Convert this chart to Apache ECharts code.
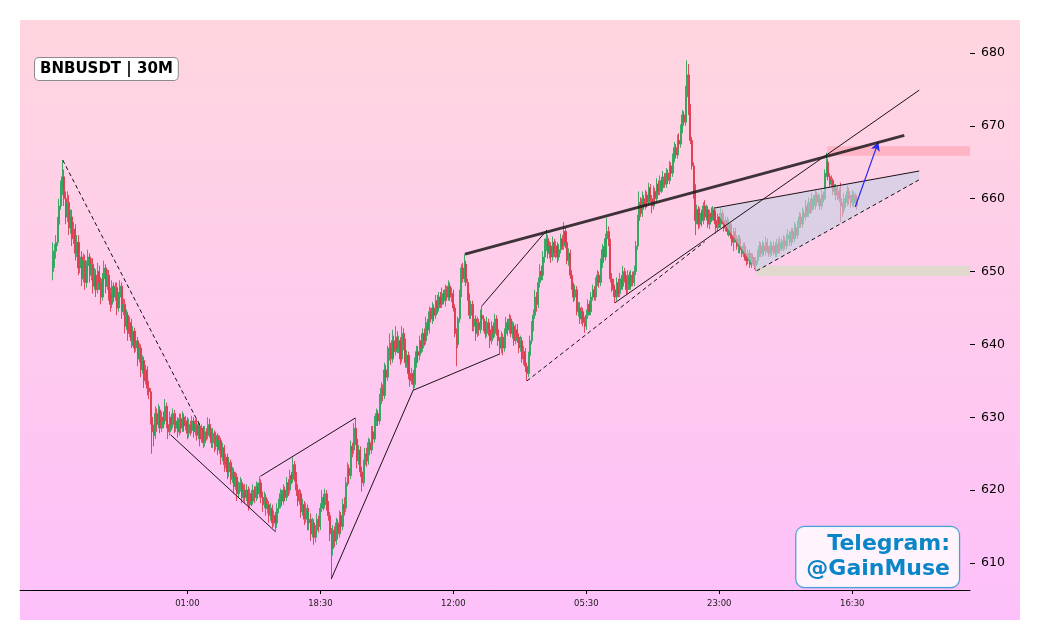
<!DOCTYPE html>
<html><head><meta charset="utf-8">
<script src="https://cdn.jsdelivr.net/npm/echarts@6/dist/echarts.min.js"></script>
<style>html,body{margin:0;padding:0;background:#fff}#c{width:1039px;height:640px}</style>
</head><body><div id="c"></div>
<script>
// ---------- DATA (30-minute candles, index 0 = first candle) ----------
const firstOpen = 650.0;
const closes = [
651.5,652.8,654.0,656.5,659.0,661.5,663.0,660.0,657.5,659.5,
656.0,657.5,654.5,655.8,652.5,654.0,650.5,652.0,649.0,651.5,
648.5,650.8,652.0,649.5,651.0,648.0,649.5,647.5,650.0,648.5,
646.5,649.0,650.5,648.0,649.5,647.0,645.5,648.0,646.5,647.8,
645.0,646.5,648.0,644.5,645.5,642.5,644.0,641.5,643.0,640.5,
641.8,639.5,640.5,638.0,639.5,636.5,637.8,635.0,636.5,634.0,
633.5,630.0,628.0,627.5,630.5,629.0,631.0,628.5,630.0,629.5,
631.5,629.0,628.0,630.0,629.0,630.5,628.5,629.5,628.0,629.8,
628.5,630.0,628.8,629.5,627.8,629.0,628.2,629.5,628.0,629.0,
627.5,628.8,627.0,628.5,626.5,628.0,627.5,629.0,628.0,626.5,
627.8,626.0,627.5,625.5,626.8,624.5,625.8,623.5,624.5,622.5,
623.8,621.5,622.5,620.5,621.8,619.5,620.5,621.0,619.0,620.0,
619.0,620.0,618.0,619.5,618.5,620.0,619.0,620.5,619.5,621.0,
619.0,618.0,619.0,617.5,618.0,616.5,617.5,615.5,616.5,615.5,
617.5,618.0,619.5,618.5,620.0,619.0,621.0,620.0,622.0,621.5,
623.5,622.0,620.0,618.5,619.5,617.0,618.0,616.0,617.5,615.5,
616.0,614.0,615.5,613.5,614.5,616.0,615.0,617.5,619.0,618.0,
619.5,618.0,616.5,614.0,612.0,614.5,613.0,615.5,614.0,616.5,
615.0,618.0,617.5,621.0,623.0,622.0,626.0,625.5,628.5,627.0,
624.0,625.5,622.5,621.0,623.5,625.0,624.0,626.5,625.5,628.0,
627.0,629.5,630.5,629.5,632.5,634.0,633.0,636.5,635.5,638.5,
639.5,638.0,640.5,639.0,641.0,639.5,640.5,638.0,641.5,640.0,
637.5,638.5,636.0,635.0,636.0,634.5,637.5,639.0,638.5,640.5,
639.5,641.5,640.5,643.0,642.0,644.5,643.5,645.0,644.0,646.0,
645.0,646.5,645.5,647.0,646.0,647.5,646.5,648.0,646.5,647.0,
645.0,641.5,640.0,643.5,647.0,650.5,649.0,651.0,648.5,646.5,
644.0,645.5,642.5,643.5,641.5,643.0,642.0,644.0,643.5,642.5,
641.5,643.0,642.0,640.5,642.5,641.5,643.5,642.0,640.5,639.5,
641.0,639.5,641.5,643.0,642.0,643.5,641.5,642.5,640.5,642.0,
641.0,639.5,640.5,638.0,639.0,637.0,636.0,638.5,640.5,642.5,
644.0,646.5,645.5,648.5,650.0,649.5,652.0,653.5,654.5,652.5,
653.5,652.0,654.0,652.5,653.5,652.0,653.0,654.5,653.5,655.5,
654.0,651.5,652.5,649.5,648.0,646.5,647.5,644.5,645.0,643.5,
644.5,643.0,642.5,644.0,645.5,644.5,646.5,647.5,646.5,648.5,
649.5,648.5,651.0,653.0,652.0,654.5,655.5,654.0,649.0,648.0,
647.5,646.5,648.5,647.0,649.0,648.0,650.0,649.0,647.5,649.5,
648.0,649.5,648.5,650.0,653.5,657.0,659.5,658.0,660.0,659.0,
660.5,659.5,661.5,660.0,659.0,661.0,660.0,662.0,661.0,662.5,
661.5,663.0,662.0,663.5,662.5,664.5,663.5,665.5,667.0,666.0,
668.0,667.5,669.5,671.5,670.5,674.0,677.0,672.0,668.0,664.5,
661.0,657.0,658.5,656.5,658.0,657.0,659.0,657.5,658.5,656.5,
658.0,657.5,658.5,657.0,656.0,657.5,656.5,658.0,657.0,656.0,
657.0,655.5,656.5,655.0,654.0,655.5,654.5,653.5,654.5,653.0,
652.5,653.5,652.0,651.5,652.5,651.0,652.0,651.5,650.8,651.5,
652.5,653.5,652.5,653.5,652.8,654.0,653.0,652.5,653.5,652.8,
653.5,652.5,653.8,653.0,654.0,653.2,654.2,653.5,654.5,655.0,
654.0,655.5,654.5,656.0,655.0,656.5,657.5,656.5,658.0,657.5,
659.0,658.0,659.5,658.5,660.0,659.0,660.5,659.5,660.0,659.0,
660.5,660.0,663.5,665.0,663.0,662.0,662.5,661.0,661.5,660.5,
661.0,660.0,659.0,658.5,660.0,659.5,661.0,660.0,659.5,660.5,
659.5,660.0,659.0];
const highs = [
654.0,653.8,655.0,657.5,660.0,662.5,665.3,664.0,661.0,661.0,
660.5,658.5,658.5,656.8,656.5,655.0,655.0,652.8,652.8,652.5,
652.3,651.5,653.0,652.5,651.8,651.8,650.5,650.3,651.2,650.8,
649.2,649.8,651.5,651.0,650.3,650.2,647.8,648.8,648.5,648.5,
648.5,647.2,648.8,648.5,646.3,646.2,644.8,644.5,643.8,643.5,
642.5,642.3,641.2,641.0,640.2,640.0,638.5,638.3,637.2,637.0,
635.0,634.0,630.8,629.0,631.5,631.2,631.8,631.5,630.8,630.8,
632.5,632.0,629.8,630.8,630.5,631.2,631.0,630.2,630.0,630.5,
630.5,630.8,630.5,630.2,630.0,629.8,629.5,630.2,630.0,629.8,
629.8,629.5,629.2,629.0,628.8,628.8,628.5,630.0,629.8,628.5,
628.5,628.2,628.0,627.8,627.5,627.2,626.5,626.2,625.0,625.0,
624.5,624.2,623.2,623.0,622.5,622.3,621.2,621.8,621.5,620.8,
620.8,620.8,620.5,620.2,620.0,620.8,620.5,621.2,621.0,621.9,
621.5,619.8,619.8,619.5,618.8,618.5,618.2,618.0,617.2,617.0,
618.2,618.8,620.2,620.0,620.8,620.5,621.8,621.5,622.8,622.5,
624.5,624.0,622.5,620.8,620.2,620.0,618.8,618.5,618.2,618.0,
617.0,616.8,616.2,616.0,615.2,616.8,616.5,618.2,620.0,619.5,
620.2,620.0,618.5,617.0,614.8,615.2,615.0,616.2,616.0,617.2,
617.0,618.8,619.0,621.8,623.8,623.5,626.8,626.5,629.2,629.9,
627.5,626.2,626.0,623.2,624.2,625.8,625.8,627.2,627.0,628.8,
628.8,630.2,631.2,631.0,633.2,634.8,634.5,637.5,637.2,639.8,
641.5,640.2,642.0,641.2,642.5,641.8,641.2,641.0,642.5,642.2,
640.8,639.2,639.0,636.8,636.8,636.5,638.2,639.8,639.8,641.2,
641.5,642.2,642.2,643.8,643.5,645.2,645.0,645.8,645.5,646.8,
646.8,647.2,647.2,647.8,647.5,648.2,648.0,648.8,648.5,647.8,
647.5,645.5,642.2,643.8,647.5,651.0,651.2,652.4,651.5,649.0,
647.0,646.0,646.0,644.2,644.0,643.8,643.5,644.8,645.3,644.0,
643.2,643.8,643.5,642.5,643.2,643.0,644.2,644.0,642.5,641.0,
641.8,641.5,642.2,643.8,643.5,644.2,644.0,643.2,643.0,642.8,
642.8,641.5,641.2,641.0,639.8,639.5,637.5,639.0,641.2,643.2,
644.8,647.5,647.2,649.2,651.0,650.8,652.8,654.5,655.7,655.0,
654.2,654.0,654.8,654.5,654.2,654.0,653.8,655.2,655.0,656.8,
656.2,654.5,653.2,653.0,650.2,648.5,648.2,648.0,645.8,645.8,
645.2,645.0,643.8,644.8,646.2,646.0,647.2,648.2,648.0,649.2,
650.2,650.0,651.8,653.8,653.5,655.2,657.4,656.2,654.5,649.8,
649.0,648.2,649.2,649.0,649.8,649.5,650.8,650.5,649.5,650.2,
650.0,650.2,650.0,650.8,654.2,657.8,661.0,660.2,661.0,660.5,
661.2,661.0,662.2,662.0,660.5,661.8,661.5,662.8,662.5,663.2,
663.0,663.8,663.5,664.2,664.0,665.2,665.0,666.2,667.8,667.5,
668.8,669.0,670.2,672.2,672.0,675.5,679.0,678.5,673.0,668.5,
665.0,662.0,659.2,659.0,658.8,658.5,659.5,659.8,659.2,659.0,
658.5,658.8,659.0,658.8,657.5,658.0,658.0,658.8,658.5,657.5,
657.5,657.5,657.2,656.8,655.5,656.0,656.0,655.0,655.0,655.0,
653.5,654.0,654.0,652.5,653.0,653.0,652.5,652.5,652.0,652.0,
653.0,654.2,654.0,654.2,654.0,654.8,654.5,653.5,654.2,654.0,
654.2,654.0,654.5,654.5,654.8,654.5,655.0,654.8,655.2,655.8,
655.5,656.0,656.0,656.8,656.5,657.0,658.2,658.0,658.8,658.5,
659.8,659.5,660.2,660.0,660.8,660.5,661.2,661.0,660.8,660.5,
661.2,661.0,664.0,666.3,665.5,663.5,663.2,662.8,662.0,662.0,
661.8,661.5,662.2,659.5,660.8,660.5,661.8,661.5,660.5,661.2,
661.0,660.8,660.5];
const lows = [
648.8,650.5,651.8,653.5,656.0,658.5,660.5,659.0,656.5,656.8,
655.0,655.2,653.5,653.8,651.5,652.0,649.5,649.8,648.0,648.5,
647.5,647.8,650.0,648.5,648.8,647.0,647.5,646.5,647.0,647.5,
645.5,646.0,648.5,647.0,647.5,646.0,644.5,645.0,645.8,646.0,
644.0,644.5,646.0,643.5,644.0,641.5,642.0,640.5,641.0,639.5,
639.8,638.8,639.0,637.0,637.5,635.5,636.0,634.0,634.5,633.0,
632.5,629.0,625.0,626.0,627.0,628.0,628.5,627.8,628.0,628.5,
629.0,628.5,627.0,627.5,628.2,628.5,627.8,628.0,627.2,627.5,
627.8,628.0,628.0,628.2,627.0,627.2,627.5,627.8,627.2,627.5,
626.8,627.0,626.0,626.5,625.8,626.0,626.8,627.0,627.2,625.8,
625.8,625.2,625.5,624.8,625.0,623.5,624.0,622.5,623.0,621.5,
621.8,620.8,621.0,619.5,620.0,618.5,619.0,619.8,618.2,618.5,
618.2,618.5,617.2,617.5,617.8,618.0,618.2,618.5,618.8,619.0,
618.2,617.0,617.5,616.5,616.8,615.5,615.8,614.8,615.0,614.3,
614.8,616.8,617.5,617.8,618.0,618.5,618.5,619.2,619.5,620.8,
621.0,621.2,619.2,617.8,618.0,616.2,616.5,615.2,615.5,614.5,
614.5,613.0,613.5,612.5,612.8,613.8,614.2,614.5,617.0,617.2,
617.5,617.2,615.8,613.0,607.8,611.0,612.2,612.5,613.2,613.5,
614.2,614.5,616.5,617.0,620.5,620.8,621.5,624.5,625.0,626.2,
623.0,623.5,621.8,619.8,620.5,622.8,623.2,623.5,624.8,625.0,
626.2,626.5,628.8,628.8,629.0,631.8,632.2,632.5,634.5,635.0,
637.8,637.2,637.5,638.2,638.5,638.8,638.8,637.2,637.5,639.2,
636.8,636.8,635.2,634.2,634.5,633.7,634.0,636.8,637.8,637.8,
638.8,639.0,639.8,640.0,641.2,641.5,643.0,642.8,643.2,643.5,
644.2,644.5,645.0,645.0,645.5,645.2,646.0,646.0,646.0,645.8,
644.5,641.0,637.0,639.5,643.0,646.5,648.5,648.5,648.0,646.0,
643.5,643.5,641.8,641.8,640.5,641.0,641.2,641.5,642.8,641.8,
640.8,641.0,641.2,639.5,640.0,640.8,641.0,641.2,639.8,638.7,
638.8,638.5,639.0,641.0,641.2,641.5,641.0,640.8,639.8,640.0,
640.2,638.8,639.0,637.5,637.2,636.2,635.0,635.5,638.0,640.0,
641.8,643.5,644.5,645.0,647.8,648.8,648.8,651.2,652.8,651.8,
651.8,651.2,651.5,652.0,651.8,651.2,651.5,652.5,653.0,653.0,
653.2,651.0,650.8,649.0,647.5,645.8,646.0,644.0,643.8,642.8,
642.8,642.5,641.6,642.0,643.5,644.0,644.0,646.0,646.0,646.0,
648.0,647.8,648.0,650.5,651.2,651.5,654.0,653.5,648.5,647.2,
646.5,645.7,646.0,646.5,646.5,647.5,647.5,648.5,646.8,647.0,
647.5,647.5,648.0,648.0,649.5,653.0,656.5,657.5,657.5,658.5,
658.5,658.8,659.0,659.5,658.0,658.5,659.5,659.5,660.5,660.5,
660.8,661.0,661.5,661.5,662.0,662.0,663.0,663.0,665.0,665.5,
665.5,666.8,667.0,669.0,670.0,670.0,673.5,671.5,667.5,664.0,
660.0,655.0,656.5,655.8,656.0,656.2,656.5,657.0,657.0,656.0,
655.8,656.8,657.0,656.5,655.2,655.5,656.0,656.0,656.5,655.5,
655.5,655.0,654.8,654.5,653.5,652.8,654.0,653.0,652.5,652.5,
652.0,652.0,651.5,650.8,651.0,650.5,650.5,651.0,650.3,650.1,
651.0,652.0,652.0,652.0,652.2,652.2,652.5,652.0,652.0,652.2,
652.2,652.0,652.0,652.5,652.5,652.8,652.8,653.0,653.0,654.0,
653.5,653.5,654.0,654.0,654.5,654.5,656.0,656.0,656.0,657.0,
657.0,657.5,657.5,658.0,658.0,658.5,658.5,659.0,659.0,658.5,
658.5,659.5,659.8,663.0,662.5,661.5,661.5,660.5,660.5,659.8,
659.8,659.5,656.8,657.5,658.0,658.8,659.0,659.2,658.8,659.0,
658.8,658.8,658.5];

// time-axis tick positions (candle index) and their labels
const timeTickIdx = [84, 167, 250, 333, 416, 499];
const timeTickLabels = ['01:00', '18:30', '12:00', '05:30', '23:00', '16:30'];
const priceTicks = [610, 620, 630, 640, 650, 660, 670, 680];

// drawn trend lines: [[candleIdx, price], [candleIdx, price]]
const thinLines = [
  [[73.5, 627.6], [138.9, 614.3]],
  [[129.6, 621.9], [188.8, 629.9]],
  [[173.8, 607.8], [224.9, 633.7]],
  [[224.9, 633.7], [279.1, 638.7]],
  [[267.9, 645.3], [308.4, 655.7]],
  [[350.8, 645.7], [540.8, 674.9]],
  [[412.5, 658.7], [540.8, 663.8]]
];
const dashedLines = [
  [[6.2, 665.3], [92.2, 628.7]],
  [[296.0, 635.0], [406.9, 654.1]],
  [[439.3, 650.1], [540.8, 662.6]]
];
const thickLines = [
  [[257.3, 652.4], [531.5, 668.7]]
];
const triangleFill = [[412.5, 658.7], [540.8, 663.8], [540.8, 662.6], [439.3, 650.1]];
const arrowLine = [[500.9, 658.9], [515.3, 667.8]];
// zones: [fromIdx, priceLow, priceHigh] (extend to right edge)
const resistanceZone = [483.5, 665.9, 667.2];
const supportZone = [439.3, 649.4, 650.8];

const xMin = -20.5, xMax = 572.5;
const yMin = 606.29, yMax = 684.53;

// ---------- CHART ----------
const opens = closes.map((c, i) => i === 0 ? firstOpen : closes[i - 1]);
const candleData = closes.map((c, i) => [i, opens[i], c, lows[i], highs[i]]);
const UP = '#2aa55a', DOWN = '#dc3a4c';

const chart = echarts.init(document.getElementById('c'), null, {renderer: 'canvas'});

function segSeries(segs, style, z) {
  return segs.map(s => ({
    type: 'line', xAxisIndex: 0, yAxisIndex: 0, data: s, symbol: 'none',
    silent: true, animation: false, z: z, lineStyle: style
  }));
}

const zones = [
  {z: resistanceZone, color: 'rgba(255,170,185,0.75)'},
  {z: supportZone, color: 'rgba(205,225,185,0.6)'}
];

const option = {
  backgroundColor: '#ffffff',
  animation: false,
  graphic: [
    {type: 'rect', z: -100, silent: true, shape: {x: 20, y: 20, width: 1000, height: 600},
     style: {fill: {type: 'linear', x: 0, y: 0, x2: 0, y2: 1,
       colorStops: [{offset: 0, color: '#ffd6df'}, {offset: 1, color: '#fdc0fa'}]}}},
    {type: 'text', z: 100, left: 34, top: 57,
     style: {text: 'BNBUSDT | 30M', font: 'bold 15px "DejaVu Sans"', fill: '#000',
       backgroundColor: '#ffffff', borderColor: '#8a8a8a', borderWidth: 1, borderRadius: 4,
       padding: [4, 5, 3, 5]}},
    {type: 'text', z: 100, x: 959, y: 527,
     style: {text: 'Telegram:\n@GainMuse', font: 'bold 22px "DejaVu Sans"', lineHeight: 25,
       fill: '#0a86c8', align: 'right', verticalAlign: 'top',
       backgroundColor: 'rgba(255,250,253,0.9)', borderColor: '#4a9fd6', borderWidth: 1.2,
       borderRadius: 8, padding: [5, 9, 5, 10]}}
  ],
  grid: {left: 20, right: 69, top: 20, bottom: 50, containLabel: false},
  xAxis: [{
    type: 'value', min: xMin, max: xMax, position: 'bottom',
    axisLine: {show: true, onZero: false, lineStyle: {color: '#000', width: 1}},
    axisTick: {show: true, length: 4, lineStyle: {color: '#000'}, customValues: timeTickIdx},
    axisLabel: {show: true, fontSize: 8.5, color: '#222', fontFamily: 'DejaVu Sans', margin: 9,
      customValues: timeTickIdx,
      formatter: v => { const k = timeTickIdx.indexOf(Math.round(v)); return k >= 0 ? timeTickLabels[k] : ''; }},
    splitLine: {show: false}
  }],
  yAxis: [{
    type: 'value', position: 'right', min: yMin, max: yMax, scale: true,
    axisLine: {show: false, onZero: false},
    axisTick: {show: true, inside: false, length: 5, lineStyle: {color: '#000'}, customValues: priceTicks},
    axisLabel: {show: true, fontSize: 12.5, color: '#000', fontFamily: 'DejaVu Sans', margin: 11,
      customValues: priceTicks},
    splitLine: {show: false}
  }],
  series: [
    {
      type: 'custom', xAxisIndex: 0, yAxisIndex: 0, z: 1, silent: true,
      data: zones.map((d, i) => i),
      renderItem: (params, api) => {
        const zn = zones[params.dataIndex];
        const p0 = api.coord([zn.z[0], zn.z[2]]);
        const p1 = api.coord([xMax, zn.z[1]]);
        return {type: 'rect', shape: {x: p0[0], y: p0[1], width: p1[0] - p0[0], height: p1[1] - p0[1]},
          style: {fill: zn.color}};
      }
    },
    {
      type: 'candlestick', xAxisIndex: 0, yAxisIndex: 0, z: 2,
      dimensions: ['idx', 'open', 'close', 'lowest', 'highest'],
      encode: {x: 'idx', y: ['open', 'close', 'lowest', 'highest']},
      data: candleData, barWidth: 1.6,
      itemStyle: {color: UP, color0: DOWN, borderColor: UP, borderColor0: DOWN, borderWidth: 0.9}
    },
    {
      type: 'custom', xAxisIndex: 0, yAxisIndex: 0, z: 3, silent: true, data: [0],
      renderItem: (params, api) => ({
        type: 'polygon', shape: {points: triangleFill.map(p => api.coord(p))},
        style: {fill: 'rgba(195,208,228,0.6)'}
      })
    },
    ...segSeries(thinLines, {color: '#1c1216', width: 1}, 4),
    ...segSeries(dashedLines, {color: '#111', width: 1, type: [4, 3]}, 4),
    {
      type: 'line', xAxisIndex: 0, yAxisIndex: 0, data: thickLines[0], symbol: 'none',
      silent: true, z: 5, lineStyle: {color: 'rgba(35,28,32,0.88)', width: 3},
      markLine: {
        silent: true, symbol: ['none', 'arrow'], symbolSize: [7, 9], animation: false,
        label: {show: false},
        lineStyle: {color: '#2a2aee', width: 1.2, type: 'solid'},
        data: [[{coord: arrowLine[0]}, {coord: arrowLine[1]}]]
      }
    }
  ]
};
chart.setOption(option);
</script></body></html>
